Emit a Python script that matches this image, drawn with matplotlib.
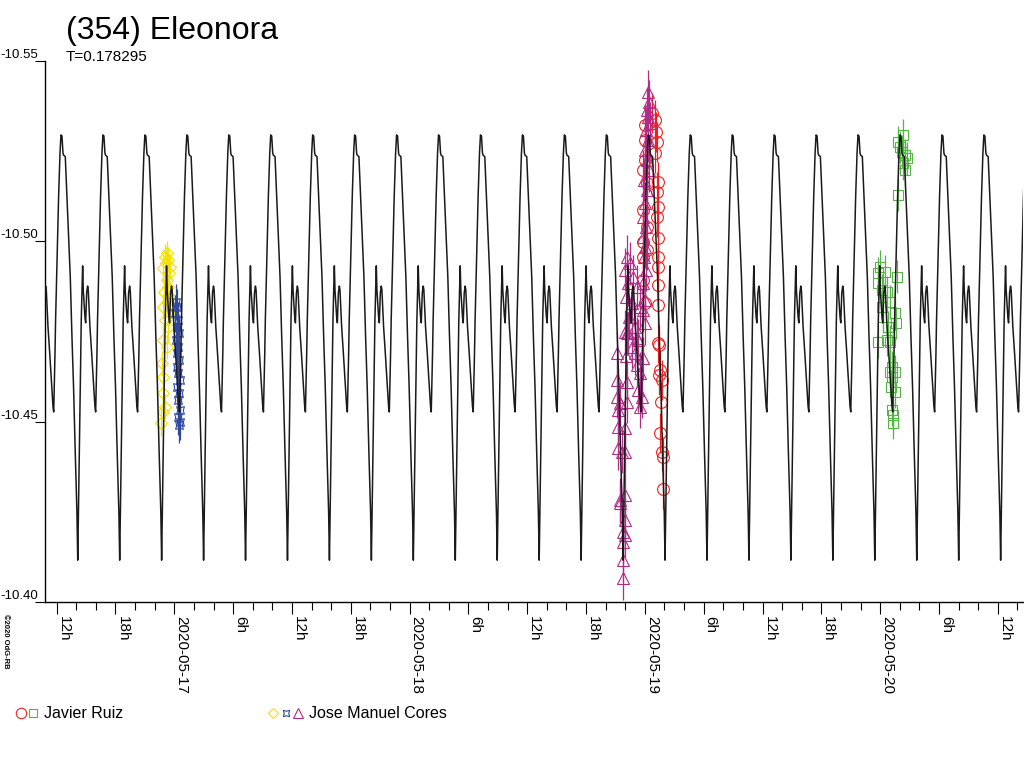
import matplotlib
matplotlib.use('Agg')
import matplotlib.pyplot as plt
import matplotlib.dates as mdates
from matplotlib.lines import Line2D
from matplotlib.ticker import FuncFormatter
from datetime import datetime
import numpy as np

plt.rcParams['font.family'] = ['Liberation Sans', 'DejaVu Sans']
plt.rcParams['axes.unicode_minus'] = False

# rotation period (days), time of one maximum (hours after 2020-05-17 0h UT)
period_d = 0.178295
t_max_h = 9.833

# one cycle of the model light curve, phase counted from maximum
phase = [0.000, 0.024, 0.048, 0.062, 0.103, 0.143, 0.181, 0.222, 0.262, 0.300,
         0.341, 0.381, 0.400, 0.420, 0.460, 0.484, 0.517, 0.532, 0.572, 0.589,
         0.613, 0.636, 0.651, 0.691, 0.732, 0.770, 0.810, 0.827, 0.841, 0.858,
         0.872, 0.896, 0.920, 0.944, 0.977]
model_mag = [-10.5295, -10.5292, -10.5245, -10.5239, -10.5235, -10.5124, -10.5013,
             -10.4902, -10.4736, -10.4597, -10.4413, -10.4247, -10.4116, -10.4274,
             -10.4597, -10.4782, -10.4932, -10.4865, -10.4790, -10.4774, -10.4857,
             -10.4876, -10.4865, -10.4763, -10.4690, -10.4616, -10.4542, -10.4527,
             -10.4597, -10.4690, -10.4782, -10.4893, -10.5013, -10.5124, -10.5244]

# observations: hours after 2020-05-17 0h UT, reduced magnitude
red_t = [48.69, 49.03, 48.01, 49.13, 48.01, 49.20, 49.03, 48.01, 47.84, 49.37,
         48.18, 49.20, 49.37, 47.84, 49.20, 48.18, 49.37, 47.84, 48.18, 49.37,
         47.77, 49.37, 47.84, 49.37, 48.01, 49.37, 49.37, 49.47, 49.54, 49.47,
         49.71, 49.61, 49.54, 49.71, 49.88, 49.88]
red_m = [-10.5355, -10.5336, -10.5323, -10.5304, -10.5281, -10.5276, -10.5244, -10.5226,
         -10.5198, -10.5165, -10.5161, -10.5138, -10.5096, -10.5087, -10.5068, -10.5041,
         -10.5008, -10.4999, -10.4976, -10.4957, -10.4957, -10.4930, -10.4893, -10.4879,
         -10.4828, -10.4823, -10.4717, -10.4713, -10.4643, -10.4629, -10.4616, -10.4555,
         -10.4468, -10.4417, -10.4403, -10.4312]

green_t = [73.85, 74.36, 74.02, 74.19, 74.53, 74.70, 74.36, 74.53, 73.79, 71.98,
           71.81, 72.49, 73.69, 71.81, 72.15, 72.66, 73.00, 72.15, 73.51, 72.32,
           72.83, 73.61, 71.81, 72.66, 73.00, 73.17, 73.00, 73.51, 73.17, 73.07,
           73.51, 73.17, 73.34, 73.27]
green_m = [-10.5276, -10.5295, -10.5262, -10.5249, -10.5239, -10.5230, -10.5216, -10.5198,
           -10.5128, -10.4930, -10.4911, -10.4916, -10.4902, -10.4884, -10.4865, -10.4860,
           -10.4833, -10.4819, -10.4800, -10.4791, -10.4763, -10.4773, -10.4722, -10.4726,
           -10.4722, -10.4652, -10.4639, -10.4639, -10.4625, -10.4597, -10.4583, -10.4532,
           -10.4519, -10.4496]

yellow_t = [-0.775, -0.949, -0.612, -0.847, -0.439, -1.122, -0.510, -0.775, -0.612, -1.051,
            -0.439, -0.775, -1.122, -0.510, -0.949, -0.612, -1.122, -0.775, -1.285, -1.122,
            -1.183, -0.949, -1.122, -1.387]
yellow_m = [-10.4967, -10.4957, -10.4948, -10.4939, -10.4930, -10.4925, -10.4911, -10.4893,
            -10.4874, -10.4860, -10.4847, -10.4833, -10.4819, -10.4800, -10.4782, -10.4763,
            -10.4726, -10.4708, -10.4662, -10.4625, -10.4579, -10.4542, -10.4528, -10.4496]

blue_t = [0.173, 0.306, 0.071, 0.408, 0.245, 0.510, 0.173, 0.408, 0.306, 0.510,
          0.245, 0.408, 0.581, 0.306, 0.510, 0.347, 0.581, 0.408, 0.581, 0.510]
blue_m = [-10.4833, -10.4819, -10.4800, -10.4782, -10.4763, -10.4745, -10.4726, -10.4708,
          -10.4690, -10.4671, -10.4652, -10.4634, -10.4616, -10.4597, -10.4579, -10.4560,
          -10.4532, -10.4514, -10.4500, -10.4491]

magenta_t = [48.35, 48.45, 48.18, 48.35, 48.52, 48.11, 48.29, 48.01, 48.18, 48.45,
             47.91, 48.18, 48.01, 47.84, 48.11, 47.84, 48.01, 47.91, 48.11, 47.84,
             48.01, 47.77, 48.01,
             46.14, 46.48, 45.97, 46.82, 46.31, 47.16, 46.07, 46.65, 47.50, 46.41,
             46.99, 46.14, 47.33, 46.65,
             46.31, 45.97, 47.16, 45.12, 46.07, 46.99, 47.77, 47.16, 47.50, 45.12,
             46.14, 47.33, 47.68, 45.12, 45.46, 46.14, 47.50, 45.29, 45.29, 45.97,
             45.29, 45.63, 45.97, 45.97, 45.46, 45.46, 45.97, 45.80, 45.97, 45.73,
             45.73, 45.80]
magenta_m = [-10.5415, -10.5387, -10.5364, -10.5346, -10.5327, -10.5309, -10.5281, -10.5253,
             -10.5226, -10.5198, -10.5170, -10.5142, -10.5105, -10.5068, -10.5041, -10.5013,
             -10.4985, -10.4957, -10.4921, -10.4884, -10.4837, -10.4810, -10.4773,
             -10.4957, -10.4939, -10.4921, -10.4902, -10.4884, -10.4874, -10.4847, -10.4828,
             -10.4819, -10.4791, -10.4763, -10.4745, -10.4726, -10.4708,
             -10.4745, -10.4749, -10.4731, -10.4690, -10.4682, -10.4690, -10.4676, -10.4657,
             -10.4634, -10.4616, -10.4611, -10.4588, -10.4569, -10.4569, -10.4551, -10.4555,
             -10.4542, -10.4532, -10.4486, -10.4482, -10.4426, -10.4417, -10.4417, -10.4297,
             -10.4283, -10.4274, -10.4227, -10.4195, -10.4186, -10.4167, -10.4116, -10.4066]

# typical error bar (mag) of each session
red_err, green_err, yellow_err, blue_err, magenta_err = 0.0055, 0.0045, 0.0035, 0.005, 0.006

x_start_h, x_end_h = -13.19, 86.57

base = mdates.date2num(datetime(2020, 5, 17))


def tx(hours):
    return base + np.asarray(hours) / 24.0


fig = plt.figure(figsize=(10.24, 7.68), dpi=100)
ax = fig.add_axes([45 / 1024, 1 - 602 / 768, 978 / 1024, 541 / 768])

sessions = [
    (red_t, red_m, red_err, '#f02020', 'o', 8.5),
    (green_t, green_m, green_err, '#56b446', 's', 6.5),
    (yellow_t, yellow_m, yellow_err, '#f5e000', 'D', 6.5),
    (blue_t, blue_m, blue_err, '#3048a0', (4, 1, 45), 8.0),
    (magenta_t, magenta_m, magenta_err, '#b02c88', '^', 8.0),
]
for t, m, e, col, mk, ms in sessions:
    ax.errorbar(tx(t), m, yerr=e, fmt='none', ecolor=col, elinewidth=0.9, capsize=0,
                zorder=2)
    ax.plot(tx(t), m, ls='none', marker=mk, ms=ms, mfc='none', mec=col, mew=0.8,
            zorder=2)

# model light curve repeated with the rotation period
P_h = period_d * 24
cycles = np.arange(-7, 21)
curve_t = (t_max_h + (cycles[:, None] + np.array(phase)[None, :]) * P_h).ravel()
curve_m = np.tile(model_mag, len(cycles))
ax.plot(tx(curve_t), curve_m, color='#1a1a1a', lw=1.1, zorder=4)

ax.set_xlim(tx(x_start_h), tx(x_end_h))
ax.set_ylim(-10.40, -10.55)
ax.set_yticks([-10.55, -10.50, -10.45, -10.40])
ax.yaxis.set_major_formatter(FuncFormatter(lambda v, p: '%.2f' % v))

ax.xaxis.set_major_locator(mdates.HourLocator(byhour=[0, 6, 12, 18]))
ax.xaxis.set_minor_locator(mdates.HourLocator(byhour=range(0, 24, 2)))


def hour_label(v, pos):
    d = mdates.num2date(round(v * 24) / 24)
    if d.hour == 0:
        return d.strftime('%Y-%m-%d')
    return '%dh' % d.hour


ax.xaxis.set_major_formatter(FuncFormatter(hour_label))

for s in ['top', 'right']:
    ax.spines[s].set_visible(False)
for s in ['left', 'bottom']:
    ax.spines[s].set_linewidth(1.0)

ax.tick_params(axis='y', direction='out', length=7.2, width=0.8, pad=-2.2, labelsize=9.5)
ax.tick_params(axis='x', which='major', direction='out', length=8.6, width=0.8, pad=1.5,
               labelsize=11)
ax.tick_params(axis='x', which='minor', direction='out', length=5.8, width=0.8)
plt.setp(ax.get_yticklabels(), va='bottom')
plt.setp(ax.get_xticklabels(), rotation=-90, ha='left', va='top')

fig.text(66 / 1024, 1 - 31 / 768, '(354) Eleonora', fontsize=23, va='center', ha='left')
fig.text(66 / 1024, 1 - 57 / 768, 'T=0.178295', fontsize=11, va='center', ha='left')
fig.text(2 / 1024, 1 - 614 / 768, '\u00a92020 OdG-RB', fontsize=5.5, rotation=-90,
         va='top', ha='left', fontweight='bold')

# legend drawn at the bottom
leg_y = 1 - 713 / 768
legend_marks = [(21, 'o', '#f02020', 7.5), (33, 's', '#56b446', 5.5),
                (273, 'D', '#f5e000', 5.5), (285.5, (4, 1, 45), '#3048a0', 6.5),
                (297.5, '^', '#b02c88', 7.0)]
for xp, mk, col, ms in legend_marks:
    fig.add_artist(Line2D([xp / 1024], [leg_y], marker=mk, ms=ms, mfc='none', mec=col,
                          mew=0.8, ls='none', transform=fig.transFigure))
fig.text(44 / 1024, leg_y, 'Javier Ruiz', fontsize=11.5, va='center', ha='left')
fig.text(309 / 1024, leg_y, 'Jose Manuel Cores', fontsize=11.5, va='center', ha='left')

fig.savefig('out.png', dpi=100)
